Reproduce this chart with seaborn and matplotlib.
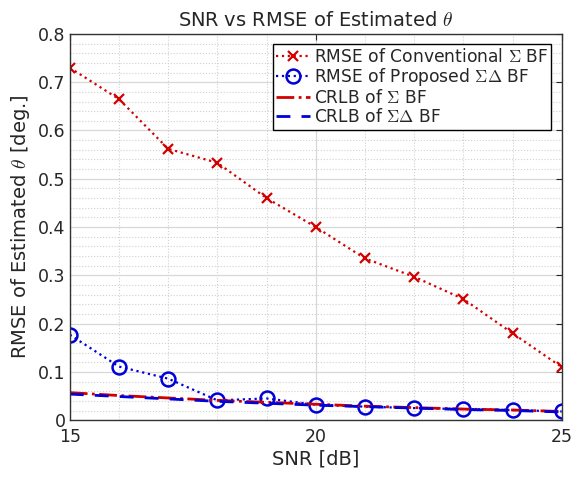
import matplotlib
matplotlib.use("Agg")
import matplotlib.pyplot as plt
from matplotlib.ticker import MultipleLocator
import numpy as np
import pandas as pd
import seaborn as sns

sns.set_style("white")
plt.rcParams['font.family'] = ['DejaVu Sans']
plt.rcParams['mathtext.fontset'] = 'cm'

snr = [15, 16, 17, 18, 19, 20, 21, 22, 23, 24, 25]
rmse_conv = [0.730, 0.665, 0.562, 0.533, 0.460, 0.400, 0.335, 0.297, 0.251, 0.180, 0.110]
rmse_prop = [0.177, 0.111, 0.086, 0.041, 0.045, 0.032, 0.028, 0.025, 0.023, 0.021, 0.018]
crlb_sum = [0.057, 0.051, 0.046, 0.041, 0.037, 0.033, 0.029, 0.026, 0.023, 0.021, 0.018]
crlb_sd = [0.054, 0.049, 0.044, 0.039, 0.035, 0.031, 0.028, 0.025, 0.022, 0.020, 0.017]

labels = [r"RMSE of Conventional $\Sigma$ BF",
          r"RMSE of Proposed $\Sigma\Delta$ BF",
          r"CRLB of $\Sigma$ BF",
          r"CRLB of $\Sigma\Delta$ BF"]

red = "#d40000"
blue = "#0000d8"

fig = plt.figure(figsize=(5.72, 4.78), dpi=100)
ax = fig.add_axes([0.122, 0.121, 0.860, 0.808])

df = pd.DataFrame({"SNR": snr, "conv": rmse_conv, "prop": rmse_prop,
                   "crlb_sum": crlb_sum, "crlb_sd": crlb_sd})

sns.lineplot(data=df, x="SNR", y="conv", ax=ax, color=red, linestyle=":", linewidth=1.6,
             marker="x", markersize=7, markeredgewidth=1.6, markeredgecolor=red, label=labels[0])
sns.lineplot(data=df, x="SNR", y="prop", ax=ax, color=blue, linestyle=":", linewidth=1.6,
             marker="o", markersize=10, markerfacecolor="none", markeredgewidth=1.8,
             markeredgecolor=blue, label=labels[1])
sns.lineplot(data=df, x="SNR", y="crlb_sum", ax=ax, color=red, linestyle="-.", linewidth=2,
             label=labels[2])
sns.lineplot(data=df, x="SNR", y="crlb_sd", ax=ax, color=blue, linestyle=(0, (5, 4)), linewidth=2,
             label=labels[3])

ax.set_xlim(15, 25)
ax.set_ylim(0, 0.8)
ax.set_xticks([15, 20, 25])
ax.set_yticks(np.arange(0, 0.81, 0.1))
ax.set_yticklabels(["0", "0.1", "0.2", "0.3", "0.4", "0.5", "0.6", "0.7", "0.8"])
ax.xaxis.set_minor_locator(MultipleLocator(1))
ax.yaxis.set_minor_locator(MultipleLocator(0.02))
ax.grid(which="major", color="#d8d8d8", linewidth=0.9)
ax.grid(which="minor", color="#d0d0d0", linestyle=":", linewidth=0.8)
ax.tick_params(which="both", direction="in", length=4, labelsize=12.5, top=True, right=True)
ax.tick_params(axis="y", pad=3)
ax.tick_params(axis="x", pad=6)
ax.tick_params(which="minor", length=0)
for s in ax.spines.values():
    s.set_color("#333333")
    s.set_linewidth(1)

ax.set_title(r"SNR vs RMSE of Estimated $\theta$", fontsize=14, pad=6)
ax.set_xlabel("SNR [dB]", fontsize=14, labelpad=2)
ax.set_ylabel(r"RMSE of Estimated $\theta$ [deg.]", fontsize=14, labelpad=4)

leg = ax.legend(loc="upper right", fontsize=12.3, frameon=True, fancybox=False,
                edgecolor="black", framealpha=1, borderpad=0.2, labelspacing=0.05,
                handlelength=2.0, handletextpad=0.2, borderaxespad=0.6)
leg.get_frame().set_linewidth(1)

fig.savefig("out.png", dpi=100)
